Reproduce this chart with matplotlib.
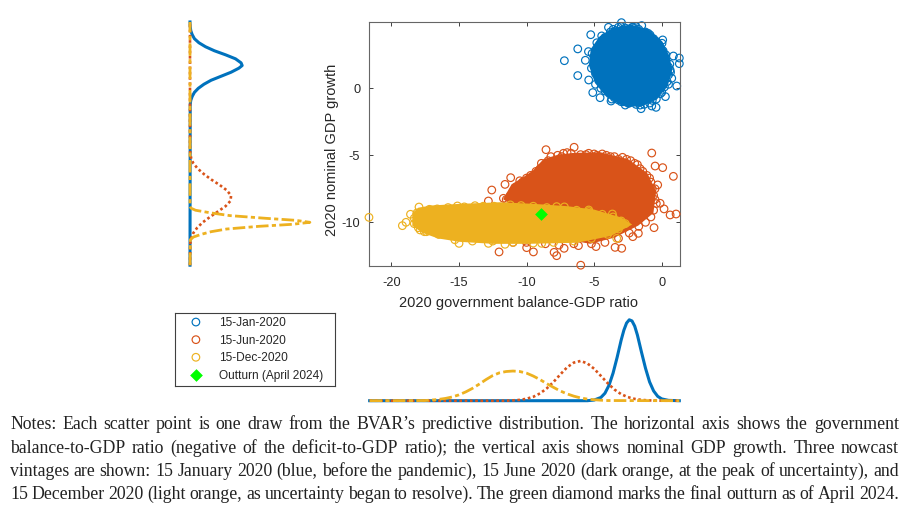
import matplotlib
matplotlib.use("Agg")
import matplotlib.pyplot as plt

W, H = 917, 514
BLUE = '#0072BD'
ORANGE = '#D95319'
YELLOW = '#EDB120'
GREEN = '#00FF00'
DARK = '#404040'

labels = ['15-Jan-2020', '15-Jun-2020', '15-Dec-2020', 'Outturn (April 2024)']

# solid part of each cloud (outline)
blue_core_x = [-5.18, -5.05, -4.44, -3.58, -2.34, -1.11, -0.12, 0.37, 0.57, 0.25, -0.49, -1.60, -2.84, -3.94, -4.76]
blue_core_y = [1.74, 2.86, 3.73, 4.30, 4.55, 4.23, 3.36, 2.36, 1.37, 0.25, -0.67, -1.17, -1.12, -0.50, 0.50]
orange_core_x = [-11.46, -10.95, -10.2, -9.4, -8.63, -7.6, -6.53, -4.56, -2.59, -1.23, -0.62, -0.81, -1.85, -3.57, -5.30, -7.52, -9.99]
orange_core_y = [-8.21, -7.31, -6.85, -6.3, -5.47, -5.15, -5.03, -4.98, -5.47, -6.47, -7.71, -9.20, -10.07, -10.95, -11.39, -11.00, -9.20]
yellow_core_x = [-18.24, -17.9, -17.0, -14.92, -11.96, -9.49, -7.03, -5.05, -3.08, -2.59, -3.82, -6.29, -9.99, -12.45, -14.92, -16.5, -17.6, -18.24]
yellow_core_y = [-9.40, -9.10, -8.95, -8.83, -8.71, -8.83, -9.00, -9.25, -9.83, -10.15, -10.82, -11.32, -11.40, -11.40, -11.25, -11.0, -10.6, -10.15]

# individual draws visible at the edge of each cloud
blue_x = [-7.20, -6.21, -6.21, -5.25, -3.94, -2.98, -1.48, 0.07, 0.86, 1.30, 1.30, -5.10, -4.56, -3.75, -1.53, -0.42,
          -0.74, 0.27, 1.11, -5.40, -5.65, -5.42, -4.44, -3.21, -2.10, -0.86, 0.02, 0.62, 0.74, -2.47, -3.21,
          -5.0, -4.9, -4.6, -4.9, -4.2, -3.8, -3.4, -2.7, -2.2, -1.7, -1.2, -0.6, -0.2, 0.1, 0.3, 0.5, 0.5, 0.4, 0.2,
          -0.1, -0.4, -0.9, -1.3, -1.9, -2.4, -3.0, -3.5, -4.2, -4.5,
          -5.2, -5.15, -4.8, -4.4, -3.6, -3.0, -1.9, -1.0, -0.4, 0.3, 0.6, 0.65, 0.5, 0.0, -0.7, -1.6, -2.7, -3.7]
blue_y = [2.06, 2.94, 0.95, 4.00, 4.55, 4.90, 4.68, 3.61, 2.41, 2.26, 1.84, -0.32, -0.70, -0.95, -1.52, -1.42,
          -1.32, -0.62, 0.17, 0.62, 2.09, 2.74, 3.91, 4.55, 4.55, 3.98, 3.36, 1.37, 0.75, -1.12, -0.87,
          2.3, 1.1, 3.2, 0.3, 3.8, 4.2, 4.3, 4.5, 4.55, 4.4, 4.2, 3.7, 3.2, 2.8, 2.1, 1.6, 1.0, 0.5, 0.1,
          -0.4, -0.8, -1.1, -1.2, -1.2, -1.1, -1.0, -0.7, -0.2, 0.0,
          1.5, 2.6, 3.4, 3.5, 4.4, 4.6, 4.6, 4.1, 3.5, 2.5, 1.8, 1.2, 0.3, -0.3, -0.9, -1.25, -1.25, -0.8]
orange_x = [-6.48, -0.74, -8.56, -7.27, -5.40, -0.49, 0.07, 0.86, -11.17, -11.59, -12.57, -12.82, -11.71, -0.30, -0.12,
            0.17, 0.62, 1.06, -0.57, -1.73, -2.14, -2.96, -3.45, -4.86, -6.16, -7.22, -7.77, -7.96, -9.49, -12.03,
            -9.99, -5.99,
            -11.2, -10.8, -10.3, -9.7, -9.3, -8.9, -8.2, -7.7, -7.0, -6.0, -5.0, -4.4, -3.8, -3.2, -2.6, -2.0, -1.6,
            -1.1, -0.8, -0.5, -0.6, -0.4, -0.6, -0.8, -1.2, -1.7, -2.4, -3.2, -4.2, -5.2, -6.5, -7.6, -8.6, -10.0, -11.0,
            -11.5, -11.0, -10.5, -10.0, -9.0, -8.4, -7.4, -6.7, -5.6, -4.8, -4.1, -3.5, -2.9, -2.3, -1.8, -1.4, -0.9, -0.7, -0.5]
orange_y = [-4.40, -4.83, -4.58, -4.85, -4.85, -5.80, -5.92, -6.57, -6.67, -7.17, -7.59, -8.41, -8.21, -7.21, -8.58,
            -9.00, -9.45, -9.38, -10.40, -10.82, -11.07, -11.94, -11.87, -11.81, -11.74, -11.94, -12.49, -12.24, -12.21, -12.21,
            -11.89, -13.20,
            -8.0, -7.4, -7.0, -6.5, -6.2, -5.6, -5.1, -5.0, -4.8, -4.95, -4.9, -4.9, -5.1, -5.3, -5.3, -5.6, -6.0,
            -6.5, -7.0, -7.5, -8.0, -8.6, -9.1, -9.6, -10.0, -10.3, -10.8, -11.2, -11.5, -11.6, -11.6, -11.7, -11.6, -11.5, -11.5,
            -8.3, -7.7, -6.9, -6.7, -6.0, -5.4, -5.1, -4.85, -4.95, -5.0, -5.0, -5.1, -5.15, -5.4, -5.7, -6.2, -6.7, -7.5, -8.3]
yellow_x = [-21.65, -19.18, -18.91, -18.58, -17.95, -17.18, -17.87, -17.55, -14.99, -15.11, -13.81, -12.82, -11.59, -8.88,
            -7.77, -5.40, -3.65, -3.33,
            -18.3, -18.1, -17.6, -16.6, -15.8, -14.6, -13.2, -12.4, -11.2, -10.4, -9.5, -8.5, -7.2, -6.3, -5.4, -4.4, -3.6,
            -3.0, -2.7, -3.2, -4.0, -5.2, -6.5, -8.0, -9.5, -11.0, -12.5, -14.0, -15.3, -16.5, -17.4, -18.0, -18.3]
yellow_y = [-9.63, -10.25, -10.00, -9.40, -8.86, -9.03, -10.57, -10.70, -11.57, -8.78, -8.76, -11.57, -11.64, -11.57,
            -8.83, -9.08, -9.38, -11.20,
            -9.7, -9.3, -9.3, -9.0, -8.9, -8.85, -8.8, -8.8, -8.7, -8.75, -8.8, -8.9, -8.85, -9.1, -9.2, -9.4, -9.6,
            -9.9, -10.1, -10.5, -10.9, -11.2, -11.4, -11.5, -11.55, -11.5, -11.4, -11.4, -11.3, -10.9, -10.7, -10.4, -10.1]

outturn_x = [-8.93]
outturn_y = [-9.38]

# marginal density of the balance ratio (bottom panel)
kde_x_blue = [-21.6, -5.5, -5, -4.5, -4.2, -3.9, -3.6, -3.3, -3.0, -2.8, -2.6, -2.4, -2.2, -2.0, -1.8, -1.5, -1.2, -0.9, -0.6, -0.3, 0, 0.5, 1.3]
kde_d_blue = [0, 0, .004, .020, .046, .095, .17, .267, .374, .435, .479, .499, .492, .46, .405, .30, .20, .116, .06, .027, .011, .002, 0]
kde_x_orange = [-21.6, -11.5, -11, -10.5, -10, -9.5, -9, -8.5, -8, -7.5, -7, -6.5, -6, -5.5, -5, -4.5, -4, -3.5, -3, -2.5, -2, -1.5, -1, -.5, 0, 1.3]
kde_d_orange = [0, 0, .002, .005, .012, .024, .045, .076, .116, .162, .206, .235, .245, .23, .197, .153, .108, .069, .04, .022, .011, .005, .002, .001, 0, 0]
kde_x_yellow = [-21.6, -17.5, -17, -16.5, -16, -15.5, -15, -14.5, -14, -13.5, -13, -12.5, -12, -11.5, -11, -10.5, -10, -9.5, -9, -8.5, -8, -7.5, -7, -6.5, -6, -5.5, -5, -4.5, -4, 1.3]
kde_d_yellow = [0, .001, .004, .008, .014, .023, .036, .054, .076, .102, .13, .155, .172, .18, .183, .18, .17, .152, .13, .105, .082, .06, .042, .028, .017, .01, .006, .003, .001, 0]

# marginal density of GDP growth (left panel)
kde_y_blue = [-13.2, -1.2, -.9, -.6, -.3, 0, .3, .6, .9, 1.2, 1.5, 1.7, 1.9, 2.2, 2.5, 2.8, 3.1, 3.4, 3.7, 4.0, 4.3, 4.6, 4.95]
kde_g_blue = [0, .002, .007, .02, .04, .075, .125, .19, .28, .37, .44, .47, .46, .41, .32, .22, .14, .08, .04, .02, .007, .002, 0]
kde_y_orange = [-13.2, -11.6, -11.2, -10.8, -10.4, -10, -9.6, -9.2, -8.8, -8.4, -8, -7.6, -7.2, -6.8, -6.4, -6, -5.6, -5.2, -4.8, -4.4, 4.95]
kde_g_orange = [0, .002, .01, .03, .065, .115, .18, .25, .32, .365, .37, .33, .265, .19, .125, .07, .03, .01, .002, 0, 0]
kde_y_yellow = [-13.2, -11.3, -11.1, -10.9, -10.7, -10.5, -10.3, -10.15, -10, -9.85, -9.7, -9.5, -9.3, -9.1, -8.95, -8.8, 4.95]
kde_g_yellow = [0, .003, .03, .1, .19, .33, .62, .92, 1.08, .95, .68, .36, .19, .05, .01, 0, 0]

notes = [
    "Notes: Each scatter point is one draw from the BVAR\u2019s predictive distribution. The horizontal axis shows the government",
    "balance-to-GDP ratio (negative of the deficit-to-GDP ratio); the vertical axis shows nominal GDP growth. Three nowcast",
    "vintages are shown: 15 January 2020 (blue, before the pandemic), 15 June 2020 (dark orange, at the peak of uncertainty), and",
    "15 December 2020 (light orange, as uncertainty began to resolve). The green diamond marks the final outturn as of April 2024.",
]
note_baselines = [429, 453, 476, 499]

plt.rcParams['font.family'] = ['Liberation Sans', 'DejaVu Sans']
plt.rcParams['axes.unicode_minus'] = False


# axes from a box given in image pixels
def px_axes(fig, left, top, right, bottom):
    return fig.add_axes([left / W, 1 - bottom / H, (right - left) / W, (bottom - top) / H])


# one line of justified text, word by word
def justified(fig, renderer, line, left, right, baseline, size):
    words = line.split(' ')
    texts = [fig.text(left / W, 1 - baseline / H, w, fontsize=size, color='#222222',
                      family='Liberation Serif', va='baseline') for w in words]
    widths = [t.get_window_extent(renderer).width for t in texts]
    gap = (right - left - sum(widths)) / (len(words) - 1)
    x = left
    for t, w in zip(texts, widths):
        t.set_x(x / W)
        x += w + gap


fig = plt.figure(figsize=(W / 100, H / 100), dpi=100)
renderer = fig.canvas.get_renderer()

# main scatter
ax = px_axes(fig, 368.7, 21.7, 680, 266)
ms = 30
ax.fill(blue_core_x, blue_core_y, color=BLUE, lw=4, zorder=2)
h1 = ax.scatter(blue_x, blue_y, s=ms, facecolors='none', edgecolors=BLUE, linewidths=0.85, clip_on=False, zorder=2)
ax.fill(orange_core_x, orange_core_y, color=ORANGE, lw=4, zorder=3)
h2 = ax.scatter(orange_x, orange_y, s=ms, facecolors='none', edgecolors=ORANGE, linewidths=0.85, clip_on=False, zorder=3)
ax.fill(yellow_core_x, yellow_core_y, color=YELLOW, lw=4, zorder=4)
h3 = ax.scatter(yellow_x, yellow_y, s=ms, facecolors='none', edgecolors=YELLOW, linewidths=0.85, clip_on=False, zorder=4)
h4 = ax.scatter(outturn_x, outturn_y, s=42, marker='D', color=GREEN, linewidths=0, zorder=5)
ax.set_xlim(-21.67, 1.35)
ax.set_ylim(-13.26, 4.97)
ax.set_xticks([-20, -15, -10, -5, 0])
ax.set_yticks([-10, -5, 0])
ax.tick_params(direction='in', top=True, right=True, length=3, width=0.7, color=DARK, labelcolor='#262626', labelsize=9.2)
ax.tick_params(axis='x', pad=8)
ax.tick_params(axis='y', pad=6)
for s in ax.spines.values():
    s.set_color('#666666')
    s.set_linewidth(0.8)
ax.set_xlabel('2020 government balance-GDP ratio', fontsize=10.5, color='#262626', labelpad=5, x=0.481)
ax.set_ylabel('2020 nominal GDP growth', fontsize=10.5, color='#262626', labelpad=2, y=0.475)

# left marginal
dots = (0, (1, 1))
dashdot = (0, (4.5, 1.2, 1.5, 1.2))
left = px_axes(fig, 190, 21.7, 311, 266)
left.plot(kde_g_blue, kde_y_blue, color=BLUE, lw=2.2, clip_on=False)
left.plot(kde_g_orange, kde_y_orange, color=ORANGE, lw=1.9, ls=dots, clip_on=False)
left.plot(kde_g_yellow, kde_y_yellow, color=YELLOW, lw=2, ls=dashdot, clip_on=False)
left.set_xlim(0, 1.09)
left.set_ylim(-13.26, 4.97)
left.axis('off')

# bottom marginal
bottom = px_axes(fig, 368.7, 318, 680, 400.7)
bottom.plot(kde_x_blue, kde_d_blue, color=BLUE, lw=2.2, clip_on=False)
bottom.plot(kde_x_orange, kde_d_orange, color=ORANGE, lw=1.9, ls=dots, clip_on=False)
bottom.plot(kde_x_yellow, kde_d_yellow, color=YELLOW, lw=2, ls=dashdot, clip_on=False)
bottom.set_xlim(-21.67, 1.35)
bottom.set_ylim(0, 0.51)
bottom.axis('off')

# legend, the box is its own axes so it can sit exactly
box = px_axes(fig, 175, 313.3, 335, 386)
box.set_xticks([])
box.set_yticks([])
for s in box.spines.values():
    s.set_color(DARK)
    s.set_linewidth(0.8)
box.legend([h1, h2, h3, h4], labels, loc='center left', frameon=False, fontsize=8.6, labelcolor='#262626',
           bbox_to_anchor=(0, 0.5), borderaxespad=0, borderpad=0, handletextpad=0.17, labelspacing=0.47,
           handlelength=3.5, scatterpoints=1, scatteryoffsets=[0.5])

# notes under the chart
for line, base in zip(notes, note_baselines):
    justified(fig, renderer, line, 10, 899, base, 12.8)

fig.savefig('out.png', dpi=100)
